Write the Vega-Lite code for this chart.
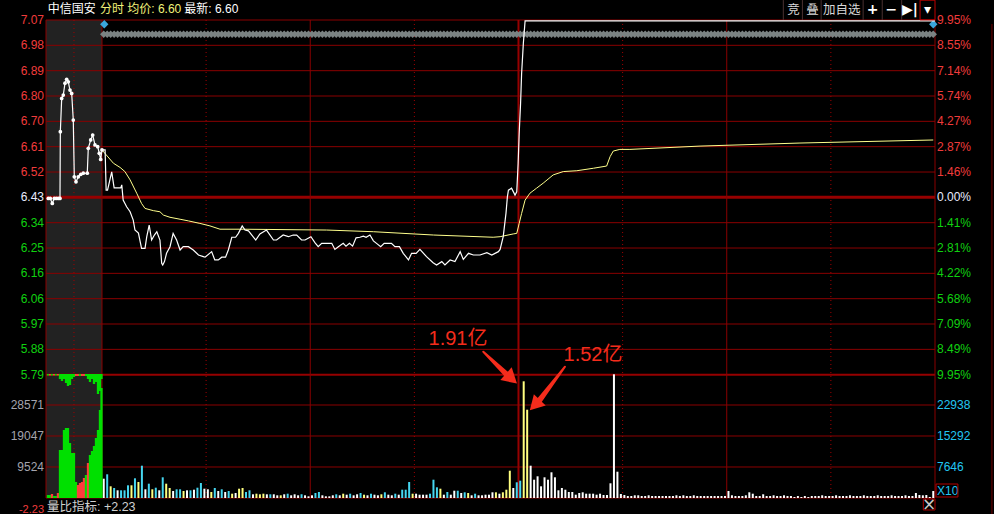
{
"$schema":"https://vega.github.io/schema/vega-lite/v6.json",
"width":889,"height":478,
"autosize":{"type":"none"},
"padding":{"left":46,"top":20,"right":59,"bottom":16},
"background":"#000000",
"config":{"view":{"stroke":null},"text":{"font":"Liberation Sans"},"scale":{"continuousPadding":0}},
"datasets":{
"pr":[{"t":0,"p":6.601},{"t":0.9,"p":6.601},{"t":1.2,"p":6.456},{"t":1.6,"p":6.456},{"t":2.8,"p":6.522},{"t":3.5,"p":6.464},{"t":5.4,"p":6.464},{"t":5.7,"p":6.475},{"t":6.1,"p":6.42},{"t":7.1,"p":6.396},{"t":8.1,"p":6.378},{"t":9.0,"p":6.348},{"t":9.5,"p":6.312},{"t":10.5,"p":6.301},{"t":11.4,"p":6.246},{"t":12.4,"p":6.246},{"t":12.9,"p":6.288},{"t":13.6,"p":6.33},{"t":14.3,"p":6.276},{"t":15.1,"p":6.294},{"t":15.8,"p":6.306},{"t":16.7,"p":6.276},{"t":17.2,"p":6.192},{"t":17.5,"p":6.186},{"t":18.0,"p":6.198},{"t":18.6,"p":6.228},{"t":19.6,"p":6.252},{"t":20.5,"p":6.3},{"t":21.5,"p":6.276},{"t":22.5,"p":6.24},{"t":23.4,"p":6.252},{"t":24.9,"p":6.252},{"t":26.3,"p":6.24},{"t":27.8,"p":6.222},{"t":29.2,"p":6.216},{"t":29.7,"p":6.214},{"t":31.6,"p":6.234},{"t":32.5,"p":6.204},{"t":33.5,"p":6.204},{"t":34.5,"p":6.214},{"t":35.6,"p":6.214},{"t":36.4,"p":6.24},{"t":37.4,"p":6.286},{"t":38.5,"p":6.286},{"t":39.3,"p":6.3},{"t":40.4,"p":6.327},{"t":41.2,"p":6.312},{"t":42.2,"p":6.309},{"t":44.3,"p":6.276},{"t":45.5,"p":6.298},{"t":47.4,"p":6.312},{"t":49.4,"p":6.276},{"t":50.3,"p":6.276},{"t":52.2,"p":6.294},{"t":53.7,"p":6.288},{"t":55.1,"p":6.294},{"t":56.1,"p":6.294},{"t":57.5,"p":6.276},{"t":58.5,"p":6.276},{"t":60.2,"p":6.288},{"t":61.4,"p":6.266},{"t":62.3,"p":6.252},{"t":63.3,"p":6.264},{"t":66.2,"p":6.264},{"t":67.1,"p":6.242},{"t":68.1,"p":6.252},{"t":69.5,"p":6.264},{"t":70.3,"p":6.254},{"t":71.3,"p":6.264},{"t":72.2,"p":6.254},{"t":73.2,"p":6.284},{"t":74.3,"p":6.286},{"t":75.3,"p":6.29},{"t":76.1,"p":6.286},{"t":77.2,"p":6.294},{"t":78.2,"p":6.273},{"t":79.1,"p":6.264},{"t":80.3,"p":6.252},{"t":81.3,"p":6.264},{"t":83.4,"p":6.264},{"t":84.4,"p":6.252},{"t":85.7,"p":6.252},{"t":86.8,"p":6.228},{"t":88.3,"p":6.204},{"t":89.2,"p":6.228},{"t":90.5,"p":6.228},{"t":91.6,"p":6.242},{"t":93.5,"p":6.216},{"t":95.4,"p":6.194},{"t":96.4,"p":6.186},{"t":97.9,"p":6.198},{"t":98.8,"p":6.186},{"t":100.3,"p":6.204},{"t":101.7,"p":6.198},{"t":103.2,"p":6.234},{"t":104.1,"p":6.206},{"t":105.6,"p":6.228},{"t":107.0,"p":6.222},{"t":108.9,"p":6.222},{"t":110.9,"p":6.23},{"t":112.3,"p":6.222},{"t":114.2,"p":6.234},{"t":114.7,"p":6.242},{"t":115.6,"p":6.288},{"t":116.4,"p":6.373},{"t":116.8,"p":6.432},{"t":117.1,"p":6.456},{"t":118.0,"p":6.463},{"t":119.0,"p":6.438},{"t":119.5,"p":6.45},{"t":119.9,"p":6.553},{"t":120.2,"p":6.661},{"t":120.6,"p":6.769},{"t":120.9,"p":6.878},{"t":121.4,"p":6.986},{"t":121.9,"p":7.067},{"t":240,"p":7.067}],
"av":[{"t":0,"p":6.601},{"t":3.3,"p":6.553},{"t":5.2,"p":6.538},{"t":6.6,"p":6.523},{"t":8.1,"p":6.493},{"t":10.0,"p":6.445},{"t":11.4,"p":6.408},{"t":12.4,"p":6.39},{"t":14.8,"p":6.382},{"t":16.7,"p":6.378},{"t":17.7,"p":6.366},{"t":19.6,"p":6.358},{"t":22.5,"p":6.351},{"t":24.9,"p":6.345},{"t":28.2,"p":6.336},{"t":31.1,"p":6.327},{"t":34.0,"p":6.315},{"t":40.7,"p":6.315},{"t":64.7,"p":6.312},{"t":78.2,"p":6.306},{"t":95.5,"p":6.294},{"t":112.7,"p":6.286},{"t":114.7,"p":6.288},{"t":118.5,"p":6.298},{"t":119.5,"p":6.3},{"t":120.2,"p":6.336},{"t":120.9,"p":6.372},{"t":121.9,"p":6.42},{"t":123.3,"p":6.445},{"t":125.2,"p":6.463},{"t":127.1,"p":6.481},{"t":130.0,"p":6.511},{"t":132.9,"p":6.523},{"t":136.8,"p":6.526},{"t":141.6,"p":6.535},{"t":145.4,"p":6.543},{"t":146.4,"p":6.577},{"t":147.3,"p":6.597},{"t":149.2,"p":6.603},{"t":152.1,"p":6.603},{"t":172.3,"p":6.615},{"t":201.1,"p":6.626},{"t":239.5,"p":6.637}],
"pre":[{"t":-15.47,"p":6.426},{"t":-14.9,"p":6.426},{"t":-14.32,"p":6.408},{"t":-13.75,"p":6.426},{"t":-13.17,"p":6.426},{"t":-12.6,"p":6.426},{"t":-12.1,"p":6.426},{"t":-12.0,"p":6.667},{"t":-11.61,"p":6.787},{"t":-11.15,"p":6.799},{"t":-10.66,"p":6.842},{"t":-10.17,"p":6.856},{"t":-9.71,"p":6.847},{"t":-9.22,"p":6.817},{"t":-8.73,"p":6.805},{"t":-8.27,"p":6.709},{"t":-7.98,"p":6.504},{"t":-7.49,"p":6.486},{"t":-6.83,"p":6.504},{"t":-6.1,"p":6.513},{"t":-5.39,"p":6.517},{"t":-4.24,"p":6.517},{"t":-3.95,"p":6.607},{"t":-3.26,"p":6.637},{"t":-2.68,"p":6.655},{"t":-2.02,"p":6.619},{"t":-1.24,"p":6.613},{"t":-0.78,"p":6.589},{"t":-0.37,"p":6.567},{"t":0,"p":6.601}],
"pv":[{"t":-15.56,"v":922,"c":"g"},{"t":-14.98,"v":922,"c":"g"},{"t":-14.41,"v":1229,"c":"r"},{"t":-13.83,"v":614,"c":"g"},{"t":-13.25,"v":614,"c":"g"},{"t":-12.68,"v":1536,"c":"r"},{"t":-12.1,"v":14746,"c":"g"},{"t":-11.52,"v":14746,"c":"g"},{"t":-10.95,"v":20890,"c":"g"},{"t":-10.37,"v":21504,"c":"g"},{"t":-9.8,"v":21504,"c":"g"},{"t":-9.22,"v":16896,"c":"g"},{"t":-8.64,"v":13824,"c":"g"},{"t":-8.07,"v":13824,"c":"g"},{"t":-7.49,"v":4915,"c":"g"},{"t":-6.91,"v":3994,"c":"r"},{"t":-6.34,"v":4608,"c":"r"},{"t":-5.76,"v":4915,"c":"r"},{"t":-5.19,"v":6144,"c":"r"},{"t":-4.61,"v":7066,"c":"g"},{"t":-4.03,"v":10752,"c":"r"},{"t":-3.46,"v":13210,"c":"g"},{"t":-2.88,"v":14438,"c":"g"},{"t":-2.3,"v":15974,"c":"g"},{"t":-1.73,"v":18432,"c":"g"},{"t":-1.15,"v":20890,"c":"g"},{"t":-0.58,"v":27034,"c":"g"},{"t":-0.14,"v":33792,"c":"g"}],
"ph":[{"t":-15.56,"lo":37634,"hi":38095,"c":"g"},{"t":-14.98,"lo":37634,"hi":38095,"c":"r"},{"t":-14.41,"lo":37634,"hi":38095,"c":"g"},{"t":-13.83,"lo":37634,"hi":38095,"c":"r"},{"t":-13.25,"lo":37634,"hi":38095,"c":"g"},{"t":-12.68,"lo":37634,"hi":38095,"c":"r"},{"t":-12.1,"lo":36559,"hi":38095,"c":"g"},{"t":-11.52,"lo":35945,"hi":38095,"c":"g"},{"t":-10.95,"lo":36559,"hi":38095,"c":"g"},{"t":-10.37,"lo":35330,"hi":38095,"c":"g"},{"t":-9.8,"lo":34409,"hi":38095,"c":"g"},{"t":-9.22,"lo":34716,"hi":38095,"c":"g"},{"t":-8.64,"lo":36559,"hi":38095,"c":"g"},{"t":-8.07,"lo":37173,"hi":38095,"c":"g"},{"t":-7.49,"lo":37481,"hi":38095,"c":"r"},{"t":-6.91,"lo":37481,"hi":38095,"c":"r"},{"t":-6.34,"lo":37481,"hi":38095,"c":"g"},{"t":-5.76,"lo":37481,"hi":38095,"c":"r"},{"t":-5.19,"lo":37481,"hi":38095,"c":"r"},{"t":-4.61,"lo":37481,"hi":38095,"c":"g"},{"t":-4.03,"lo":36559,"hi":38095,"c":"g"},{"t":-3.46,"lo":35637,"hi":38095,"c":"g"},{"t":-2.88,"lo":36559,"hi":38095,"c":"g"},{"t":-2.3,"lo":35023,"hi":38095,"c":"g"},{"t":-1.73,"lo":35637,"hi":38095,"c":"g"},{"t":-1.15,"lo":31951,"hi":38095,"c":"g"},{"t":-0.58,"lo":32873,"hi":38095,"c":"g"},{"t":-0.14,"lo":36559,"hi":38095,"c":"g"}],
"vol":[{"t":0.5,"v":5929,"c":"w"},{"t":1.5,"v":7281,"c":"c"},{"t":2.5,"v":3594,"c":"y"},{"t":3.5,"v":3072,"c":"c"},{"t":4.5,"v":2365,"c":"w"},{"t":5.5,"v":2365,"c":"c"},{"t":6.5,"v":2365,"c":"c"},{"t":7.5,"v":3901,"c":"c"},{"t":8.5,"v":3901,"c":"y"},{"t":9.5,"v":6052,"c":"c"},{"t":10.5,"v":4915,"c":"y"},{"t":11.5,"v":9923,"c":"c"},{"t":12.5,"v":2673,"c":"w"},{"t":13.5,"v":4393,"c":"c"},{"t":14.5,"v":2673,"c":"y"},{"t":15.5,"v":3164,"c":"c"},{"t":16.5,"v":2365,"c":"w"},{"t":17.5,"v":6359,"c":"c"},{"t":18.5,"v":4393,"c":"y"},{"t":19.5,"v":3072,"c":"y"},{"t":20.5,"v":2150,"c":"w"},{"t":21.5,"v":2673,"c":"c"},{"t":22.5,"v":2673,"c":"c"},{"t":23.5,"v":2150,"c":"y"},{"t":24.5,"v":2365,"c":"w"},{"t":25.5,"v":2365,"c":"c"},{"t":26.5,"v":2550,"c":"w"},{"t":27.5,"v":3164,"c":"c"},{"t":28.5,"v":4608,"c":"c"},{"t":29.5,"v":2857,"c":"w"},{"t":30.5,"v":2673,"c":"w"},{"t":31.5,"v":1843,"c":"y"},{"t":32.5,"v":3072,"c":"c"},{"t":33.5,"v":2150,"c":"w"},{"t":34.5,"v":2673,"c":"c"},{"t":35.5,"v":1843,"c":"w"},{"t":36.5,"v":2150,"c":"c"},{"t":37.5,"v":1321,"c":"y"},{"t":38.5,"v":1536,"c":"w"},{"t":39.5,"v":2857,"c":"y"},{"t":40.5,"v":3072,"c":"y"},{"t":41.5,"v":1843,"c":"c"},{"t":42.5,"v":2365,"c":"c"},{"t":43.5,"v":1137,"c":"w"},{"t":44.5,"v":1321,"c":"y"},{"t":45.5,"v":1137,"c":"y"},{"t":46.5,"v":1321,"c":"y"},{"t":47.5,"v":1137,"c":"w"},{"t":48.5,"v":1137,"c":"c"},{"t":49.5,"v":1137,"c":"w"},{"t":50.5,"v":829,"c":"w"},{"t":51.5,"v":829,"c":"y"},{"t":52.5,"v":1137,"c":"w"},{"t":53.5,"v":1321,"c":"c"},{"t":54.5,"v":829,"c":"w"},{"t":55.5,"v":1137,"c":"w"},{"t":56.5,"v":829,"c":"w"},{"t":57.5,"v":1137,"c":"c"},{"t":58.5,"v":829,"c":"w"},{"t":59.5,"v":522,"c":"w"},{"t":60.5,"v":829,"c":"w"},{"t":61.5,"v":1536,"c":"c"},{"t":62.5,"v":1843,"c":"c"},{"t":63.5,"v":829,"c":"w"},{"t":64.5,"v":522,"c":"w"},{"t":65.5,"v":522,"c":"w"},{"t":66.5,"v":829,"c":"w"},{"t":67.5,"v":1137,"c":"c"},{"t":68.5,"v":829,"c":"w"},{"t":69.5,"v":1321,"c":"y"},{"t":70.5,"v":1014,"c":"w"},{"t":71.5,"v":1321,"c":"c"},{"t":72.5,"v":829,"c":"w"},{"t":73.5,"v":1137,"c":"w"},{"t":74.5,"v":1536,"c":"c"},{"t":75.5,"v":1014,"c":"y"},{"t":76.5,"v":829,"c":"w"},{"t":77.5,"v":1321,"c":"c"},{"t":78.5,"v":1014,"c":"w"},{"t":79.5,"v":829,"c":"w"},{"t":80.5,"v":1137,"c":"y"},{"t":81.5,"v":1751,"c":"c"},{"t":82.5,"v":1014,"c":"w"},{"t":83.5,"v":829,"c":"w"},{"t":84.5,"v":1321,"c":"c"},{"t":85.5,"v":1014,"c":"w"},{"t":86.5,"v":2550,"c":"c"},{"t":87.5,"v":2550,"c":"c"},{"t":88.5,"v":4915,"c":"c"},{"t":89.5,"v":1321,"c":"y"},{"t":90.5,"v":1321,"c":"w"},{"t":91.5,"v":1014,"c":"w"},{"t":92.5,"v":1014,"c":"w"},{"t":93.5,"v":1014,"c":"w"},{"t":94.5,"v":1321,"c":"c"},{"t":95.5,"v":5622,"c":"c"},{"t":96.5,"v":3287,"c":"c"},{"t":97.5,"v":2857,"c":"y"},{"t":98.5,"v":1014,"c":"w"},{"t":99.5,"v":1843,"c":"c"},{"t":100.5,"v":1014,"c":"w"},{"t":101.5,"v":2243,"c":"w"},{"t":102.5,"v":2243,"c":"c"},{"t":103.5,"v":1536,"c":"w"},{"t":104.5,"v":1751,"c":"c"},{"t":105.5,"v":1536,"c":"y"},{"t":106.5,"v":829,"c":"w"},{"t":107.5,"v":1321,"c":"c"},{"t":108.5,"v":829,"c":"w"},{"t":109.5,"v":829,"c":"w"},{"t":110.5,"v":1014,"c":"w"},{"t":111.5,"v":1014,"c":"w"},{"t":112.5,"v":1751,"c":"w"},{"t":113.5,"v":1751,"c":"y"},{"t":114.5,"v":1321,"c":"w"},{"t":115.5,"v":1751,"c":"y"},{"t":116.5,"v":2550,"c":"y"},{"t":117.5,"v":8387,"c":"y"},{"t":118.5,"v":3072,"c":"w"},{"t":119.5,"v":4823,"c":"c"},{"t":120.5,"v":5315,"c":"c"},{"t":121.5,"v":35850,"c":"y"},{"t":122.5,"v":27126,"c":"y"},{"t":123.5,"v":9923,"c":"w"},{"t":124.5,"v":5622,"c":"w"},{"t":125.5,"v":6666,"c":"w"},{"t":126.5,"v":3594,"c":"w"},{"t":127.5,"v":6359,"c":"w"},{"t":128.5,"v":5622,"c":"w"},{"t":129.5,"v":7895,"c":"w"},{"t":130.5,"v":6359,"c":"w"},{"t":131.5,"v":2365,"c":"w"},{"t":132.5,"v":3072,"c":"w"},{"t":133.5,"v":2550,"c":"w"},{"t":134.5,"v":1843,"c":"w"},{"t":135.5,"v":1843,"c":"w"},{"t":136.5,"v":1014,"c":"w"},{"t":137.5,"v":1536,"c":"w"},{"t":138.5,"v":1751,"c":"w"},{"t":139.5,"v":1321,"c":"w"},{"t":140.5,"v":1321,"c":"w"},{"t":141.5,"v":1321,"c":"w"},{"t":142.5,"v":1014,"c":"w"},{"t":143.5,"v":1321,"c":"w"},{"t":144.5,"v":922,"c":"w"},{"t":145.5,"v":922,"c":"w"},{"t":146.5,"v":4516,"c":"w"},{"t":147.5,"v":38000,"c":"w"},{"t":148.5,"v":8079,"c":"w"},{"t":149.5,"v":1229,"c":"w"},{"t":150.5,"v":922,"c":"w"},{"t":151.5,"v":614,"c":"w"},{"t":152.5,"v":614,"c":"w"},{"t":153.5,"v":829,"c":"w"},{"t":154.5,"v":829,"c":"w"},{"t":155.5,"v":614,"c":"w"},{"t":156.5,"v":614,"c":"w"},{"t":157.5,"v":829,"c":"w"},{"t":158.5,"v":614,"c":"w"},{"t":159.5,"v":614,"c":"w"},{"t":160.5,"v":614,"c":"w"},{"t":161.5,"v":614,"c":"w"},{"t":162.5,"v":614,"c":"w"},{"t":163.5,"v":614,"c":"w"},{"t":164.5,"v":614,"c":"w"},{"t":165.5,"v":829,"c":"w"},{"t":166.5,"v":614,"c":"w"},{"t":167.5,"v":829,"c":"w"},{"t":168.5,"v":614,"c":"w"},{"t":169.5,"v":614,"c":"w"},{"t":170.5,"v":829,"c":"w"},{"t":171.5,"v":614,"c":"w"},{"t":172.5,"v":614,"c":"w"},{"t":173.5,"v":614,"c":"w"},{"t":174.5,"v":614,"c":"w"},{"t":175.5,"v":614,"c":"w"},{"t":176.5,"v":614,"c":"w"},{"t":177.5,"v":614,"c":"w"},{"t":178.5,"v":614,"c":"w"},{"t":179.5,"v":614,"c":"w"},{"t":180.5,"v":2150,"c":"w"},{"t":181.5,"v":829,"c":"w"},{"t":182.5,"v":614,"c":"w"},{"t":183.5,"v":614,"c":"w"},{"t":184.5,"v":614,"c":"w"},{"t":185.5,"v":829,"c":"w"},{"t":186.5,"v":1751,"c":"w"},{"t":187.5,"v":1321,"c":"w"},{"t":188.5,"v":614,"c":"w"},{"t":189.5,"v":614,"c":"w"},{"t":190.5,"v":1137,"c":"w"},{"t":191.5,"v":614,"c":"w"},{"t":192.5,"v":614,"c":"w"},{"t":193.5,"v":829,"c":"w"},{"t":194.5,"v":614,"c":"w"},{"t":195.5,"v":614,"c":"w"},{"t":196.5,"v":829,"c":"w"},{"t":197.5,"v":614,"c":"w"},{"t":198.5,"v":614,"c":"w"},{"t":199.5,"v":307,"c":"w"},{"t":200.5,"v":614,"c":"w"},{"t":201.5,"v":307,"c":"w"},{"t":202.5,"v":614,"c":"w"},{"t":203.5,"v":307,"c":"w"},{"t":204.5,"v":614,"c":"w"},{"t":205.5,"v":614,"c":"w"},{"t":206.5,"v":614,"c":"w"},{"t":207.5,"v":829,"c":"w"},{"t":208.5,"v":614,"c":"w"},{"t":209.5,"v":614,"c":"w"},{"t":210.5,"v":614,"c":"w"},{"t":211.5,"v":829,"c":"w"},{"t":212.5,"v":614,"c":"w"},{"t":213.5,"v":614,"c":"w"},{"t":214.5,"v":614,"c":"w"},{"t":215.5,"v":829,"c":"w"},{"t":216.5,"v":614,"c":"w"},{"t":217.5,"v":614,"c":"w"},{"t":218.5,"v":614,"c":"w"},{"t":219.5,"v":829,"c":"w"},{"t":220.5,"v":614,"c":"w"},{"t":221.5,"v":614,"c":"w"},{"t":222.5,"v":614,"c":"w"},{"t":223.5,"v":829,"c":"w"},{"t":224.5,"v":614,"c":"w"},{"t":225.5,"v":614,"c":"w"},{"t":226.5,"v":614,"c":"w"},{"t":227.5,"v":829,"c":"w"},{"t":228.5,"v":614,"c":"w"},{"t":229.5,"v":614,"c":"w"},{"t":230.5,"v":614,"c":"w"},{"t":231.5,"v":829,"c":"w"},{"t":232.5,"v":614,"c":"w"},{"t":233.5,"v":614,"c":"w"},{"t":234.5,"v":1536,"c":"w"},{"t":235.5,"v":922,"c":"w"},{"t":236.5,"v":829,"c":"w"},{"t":237.5,"v":922,"c":"w"},{"t":238.5,"v":307,"c":"w"},{"t":239.5,"v":2150,"c":"w"}],
"plab":[{"p":7.07,"l":"7.07","r":"9.95%","k":"u"},{"p":6.9786,"l":"6.98","r":"8.55%","k":"u"},{"p":6.8871,"l":"6.89","r":"7.14%","k":"u"},{"p":6.7957,"l":"6.80","r":"5.74%","k":"u"},{"p":6.7043,"l":"6.70","r":"4.27%","k":"u"},{"p":6.6129,"l":"6.61","r":"2.87%","k":"u"},{"p":6.5214,"l":"6.52","r":"1.46%","k":"u"},{"p":6.43,"l":"6.43","r":"0.00%","k":"f"},{"p":6.3386,"l":"6.34","r":"1.41%","k":"d"},{"p":6.2471,"l":"6.25","r":"2.81%","k":"d"},{"p":6.1557,"l":"6.16","r":"4.22%","k":"d"},{"p":6.0643,"l":"6.06","r":"5.68%","k":"d"},{"p":5.9729,"l":"5.97","r":"7.09%","k":"d"},{"p":5.8814,"l":"5.88","r":"8.49%","k":"d"},{"p":5.79,"l":"5.79","r":"9.95%","k":"d"}],
"vlab":[{"v":28571,"l":"28571","r":"22938"},{"v":19048,"l":"19047","r":"15292"},{"v":9524,"l":"9524","r":"7646"}],
"hg":[{"p":7.07},{"p":6.9786},{"p":6.8871},{"p":6.7957},{"p":6.7043},{"p":6.6129},{"p":6.5214},{"p":6.3386},{"p":6.2471},{"p":6.1557},{"p":6.0643},{"p":5.9729},{"p":5.8814}],
"vg":[{"v":0},{"v":9524},{"v":19048},{"v":28571}],
"vsolid":[{"t":-16.13},{"t":0},{"t":60},{"t":180},{"t":240}],
"vdot":[{"t":-8.07},{"t":30},{"t":90},{"t":150},{"t":210}],
"hdr":[{"t":-15.64,"s":"中信国安","k":"w"},{"t":-0.6,"s":"分时 均价: 6.60","k":"y"},{"t":23.71,"s":"最新: 6.60","k":"w"}],
"btxt":[{"t":199.2,"s":"竞"},{"t":204.7,"s":"叠"},{"t":213.1,"s":"加自选"}],
"bicon":[{"t":222.0,"s":"+"},{"t":227.4,"s":"−"},{"t":232.8,"s":"▶|"},{"t":237.85,"s":"▾"}],
"bdiv":[{"t":196.3,"p0":7.142,"p1":7.07},{"t":201.8,"p0":7.142,"p1":7.07},{"t":207.2,"p0":7.142,"p1":7.07},{"t":219.3,"p0":7.142,"p1":7.07},{"t":224.8,"p0":7.142,"p1":7.07},{"t":230.4,"p0":7.142,"p1":7.07}],
"ann":[{"t":102.57,"v":48845,"s":"1.91亿"},{"t":141.47,"v":43930,"s":"1.52亿"}],
"shaft":[{"t":109.86,"v":44943,"s":0,"a":"1"},{"t":116.46,"v":38124,"s":1,"a":"1"},{"t":133.4,"v":40335,"s":0,"a":"2"},{"t":126.11,"v":30106,"s":1,"a":"2"}]
},
"layer":[
{"data":{"values":[{"t0":-16.13,"t1":0}]},"mark":{"type":"rect","fill":"#222222"},"encoding":{"x":{"field":"t0","type":"quantitative","scale":{"domain":[-16.13,240],"nice":false,"zero":false,"padding":0},"axis":null},"x2":{"field":"t1"}}},
{"data":{"name":"hg"},"mark":{"type":"rule","color":"#8a0000","strokeWidth":1},"encoding":{"y":{"field":"p","type":"quantitative","scale":{"domain":[5.345,7.07],"nice":false,"zero":false},"axis":null}}},
{"data":{"values":[{"p":6.43}]},"mark":{"type":"rule","color":"#960000","strokeWidth":3},"encoding":{"y":{"field":"p","type":"quantitative","scale":{"domain":[5.345,7.07],"nice":false,"zero":false},"axis":null}}},
{"data":{"values":[{"p":5.79}]},"mark":{"type":"rule","color":"#960000","strokeWidth":2},"encoding":{"y":{"field":"p","type":"quantitative","scale":{"domain":[5.345,7.07],"nice":false,"zero":false},"axis":null}}},
{"data":{"name":"vg"},"mark":{"type":"rule","color":"#8a0000","strokeWidth":1},"encoding":{"y":{"field":"v","type":"quantitative","scale":{"domain":[0,146850],"nice":false,"zero":false},"axis":null}}},
{"data":{"name":"vsolid"},"mark":{"type":"rule","color":"#8a0000","strokeWidth":1},"encoding":{"x":{"field":"t","type":"quantitative","scale":{"domain":[-16.13,240],"nice":false,"zero":false,"padding":0},"axis":null}}},
{"data":{"values":[{"t":120}]},"mark":{"type":"rule","color":"#960000","strokeWidth":2},"encoding":{"x":{"field":"t","type":"quantitative","scale":{"domain":[-16.13,240],"nice":false,"zero":false,"padding":0},"axis":null}}},
{"data":{"name":"vdot"},"mark":{"type":"rule","color":"#a00000","strokeWidth":1,"strokeDash":[1,3]},"encoding":{"x":{"field":"t","type":"quantitative","scale":{"domain":[-16.13,240],"nice":false,"zero":false,"padding":0},"axis":null}}},
{"data":{"values":[{"t":256.4,"p0":7.0556,"p1":5.287}]},"mark":{"type":"rule","color":"#700000","strokeWidth":1},"encoding":{"x":{"field":"t","type":"quantitative","scale":{"domain":[-16.13,240],"nice":false,"zero":false,"padding":0},"axis":null},"y":{"field":"p0","type":"quantitative","scale":{"domain":[5.345,7.07],"nice":false,"zero":false},"axis":null},"y2":{"field":"p1"}}},
{"data":{"name":"vol"},"mark":{"type":"point","shape":"diamond","filled":true,"size":55,"color":"#7b8383","opacity":1},"encoding":{"x":{"field":"t","type":"quantitative","scale":{"domain":[-16.13,240],"nice":false,"zero":false,"padding":0},"axis":null},"y":{"datum":7.0184,"type":"quantitative","scale":{"domain":[5.345,7.07],"nice":false,"zero":false},"axis":null}}},
{"data":{"values":[{"t":0.66},{"t":239.5}]},"mark":{"type":"point","shape":"diamond","filled":true,"size":70,"color":"#3aa6dc","opacity":1},"encoding":{"x":{"field":"t","type":"quantitative","scale":{"domain":[-16.13,240],"nice":false,"zero":false,"padding":0},"axis":null},"y":{"datum":7.0545,"type":"quantitative","scale":{"domain":[5.345,7.07],"nice":false,"zero":false},"axis":null}}},
{"data":{"name":"vol"},"mark":{"type":"bar","width":2},"encoding":{"x":{"field":"t","type":"quantitative","scale":{"domain":[-16.13,240],"nice":false,"zero":false,"padding":0},"axis":null},"y":{"field":"v","type":"quantitative","stack":null,"scale":{"domain":[0,146850],"nice":false,"zero":false},"axis":null},"color":{"field":"c","type":"nominal","scale":{"domain":["w","c","y"],"range":["#ffffff","#46d6f0","#ffff80"]},"legend":null}}},
{"data":{"name":"pv"},"mark":{"type":"bar","width":2.3},"encoding":{"x":{"field":"t","type":"quantitative","scale":{"domain":[-16.13,240],"nice":false,"zero":false,"padding":0},"axis":null},"y":{"field":"v","type":"quantitative","stack":null,"scale":{"domain":[0,146850],"nice":false,"zero":false},"axis":null},"color":{"field":"c","type":"nominal","scale":{"domain":["g","r"],"range":["#00e000","#ff3c3c"]},"legend":null}}},
{"data":{"name":"ph"},"mark":{"type":"bar","width":2.3},"encoding":{"x":{"field":"t","type":"quantitative","scale":{"domain":[-16.13,240],"nice":false,"zero":false,"padding":0},"axis":null},"y":{"field":"lo","type":"quantitative","scale":{"domain":[0,146850],"nice":false,"zero":false},"axis":null},"y2":{"field":"hi"},"color":{"field":"c","type":"nominal","scale":{"domain":["g","r"],"range":["#00e000","#ff3c3c"]},"legend":null}}},
{"data":{"name":"av"},"mark":{"type":"line","color":"#ffff8c","strokeWidth":1},"encoding":{"x":{"field":"t","type":"quantitative","scale":{"domain":[-16.13,240],"nice":false,"zero":false,"padding":0},"axis":null},"y":{"field":"p","type":"quantitative","scale":{"domain":[5.345,7.07],"nice":false,"zero":false},"axis":null}}},
{"data":{"name":"pr"},"mark":{"type":"line","color":"#ffffff","strokeWidth":1.2},"encoding":{"x":{"field":"t","type":"quantitative","scale":{"domain":[-16.13,240],"nice":false,"zero":false,"padding":0},"axis":null},"y":{"field":"p","type":"quantitative","scale":{"domain":[5.345,7.07],"nice":false,"zero":false},"axis":null}}},
{"data":{"name":"pre"},"mark":{"type":"line","color":"#ffffff","strokeWidth":1.2},"encoding":{"x":{"field":"t","type":"quantitative","scale":{"domain":[-16.13,240],"nice":false,"zero":false,"padding":0},"axis":null},"y":{"field":"p","type":"quantitative","scale":{"domain":[5.345,7.07],"nice":false,"zero":false},"axis":null}}},
{"data":{"name":"pre"},"mark":{"type":"point","filled":true,"size":14,"color":"#ffffff","opacity":1},"encoding":{"x":{"field":"t","type":"quantitative","scale":{"domain":[-16.13,240],"nice":false,"zero":false,"padding":0},"axis":null},"y":{"field":"p","type":"quantitative","scale":{"domain":[5.345,7.07],"nice":false,"zero":false},"axis":null}}},
{"data":{"name":"plab"},"mark":{"type":"text","align":"right","baseline":"middle","dx":-2,"fontSize":12},"encoding":{"x":{"datum":-16.13,"type":"quantitative","scale":{"domain":[-16.13,240],"nice":false,"zero":false,"padding":0},"axis":null},"y":{"field":"p","type":"quantitative","scale":{"domain":[5.345,7.07],"nice":false,"zero":false},"axis":null},"text":{"field":"l","type":"nominal"},"color":{"field":"k","type":"nominal","scale":{"domain":["u","f","d"],"range":["#f03c3c","#e8ecff","#10d010"]},"legend":null}}},
{"data":{"name":"plab"},"mark":{"type":"text","align":"left","baseline":"middle","dx":2,"fontSize":12},"encoding":{"x":{"datum":240,"type":"quantitative","scale":{"domain":[-16.13,240],"nice":false,"zero":false,"padding":0},"axis":null},"y":{"field":"p","type":"quantitative","scale":{"domain":[5.345,7.07],"nice":false,"zero":false},"axis":null},"text":{"field":"r","type":"nominal"},"color":{"field":"k","type":"nominal","scale":{"domain":["u","f","d"],"range":["#f03c3c","#e8ecff","#10d010"]},"legend":null}}},
{"data":{"name":"vlab"},"mark":{"type":"text","align":"right","baseline":"middle","dx":-2,"fontSize":12,"color":"#a4a4ae"},"encoding":{"x":{"datum":-16.13,"type":"quantitative","scale":{"domain":[-16.13,240],"nice":false,"zero":false,"padding":0},"axis":null},"y":{"field":"v","type":"quantitative","scale":{"domain":[0,146850],"nice":false,"zero":false},"axis":null},"text":{"field":"l","type":"nominal"}}},
{"data":{"name":"vlab"},"mark":{"type":"text","align":"left","baseline":"middle","dx":2,"fontSize":12,"color":"#22c6f2"},"encoding":{"x":{"datum":240,"type":"quantitative","scale":{"domain":[-16.13,240],"nice":false,"zero":false,"padding":0},"axis":null},"y":{"field":"v","type":"quantitative","scale":{"domain":[0,146850],"nice":false,"zero":false},"axis":null},"text":{"field":"r","type":"nominal"}}},
{"data":{"values":[{"v":2304,"s":"X10"}]},"mark":{"type":"text","align":"left","baseline":"middle","dx":2,"fontSize":12,"color":"#22c6f2"},"encoding":{"x":{"datum":240,"type":"quantitative","scale":{"domain":[-16.13,240],"nice":false,"zero":false,"padding":0},"axis":null},"y":{"field":"v","type":"quantitative","scale":{"domain":[0,146850],"nice":false,"zero":false},"axis":null},"text":{"field":"s","type":"nominal"}}},
{"data":{"values":[{"t0":240.3,"t1":246.6,"v0":4301,"v1":307},{"t0":236.63,"t1":240,"v0":-307,"v1":-3686}]},"mark":{"type":"rect","fillOpacity":0,"stroke":"#b00000","strokeWidth":1},"encoding":{"x":{"field":"t0","type":"quantitative","scale":{"domain":[-16.13,240],"nice":false,"zero":false,"padding":0},"axis":null},"x2":{"field":"t1"},"y":{"field":"v0","type":"quantitative","scale":{"domain":[0,146850],"nice":false,"zero":false},"axis":null},"y2":{"field":"v1"}}},
{"data":{"values":[{"t":238.3,"v":-2002,"s":"×"}]},"mark":{"type":"text","align":"center","baseline":"middle","fontSize":17,"color":"#c8c8c8","font":"DejaVu Sans"},"encoding":{"x":{"field":"t","type":"quantitative","scale":{"domain":[-16.13,240],"nice":false,"zero":false,"padding":0},"axis":null},"y":{"field":"v","type":"quantitative","scale":{"domain":[0,146850],"nice":false,"zero":false},"axis":null},"text":{"field":"s","type":"nominal"}}},
{"data":{"values":[{"t":-15.85,"v":-2765,"s":"量比指标: +2.23"}]},"mark":{"type":"text","align":"left","baseline":"middle","fontSize":12.5,"color":"#d0d0d0","font":"Liberation Sans, Noto Sans CJK SC"},"encoding":{"x":{"field":"t","type":"quantitative","scale":{"domain":[-16.13,240],"nice":false,"zero":false,"padding":0},"axis":null},"y":{"field":"v","type":"quantitative","scale":{"domain":[0,146850],"nice":false,"zero":false},"axis":null},"text":{"field":"s","type":"nominal"}}},
{"data":{"values":[{"v":-3533,"s":"-2.23"}]},"mark":{"type":"text","align":"right","baseline":"middle","dx":-2,"fontSize":11,"color":"#f03c3c"},"encoding":{"x":{"datum":-16.13,"type":"quantitative","scale":{"domain":[-16.13,240],"nice":false,"zero":false,"padding":0},"axis":null},"y":{"field":"v","type":"quantitative","scale":{"domain":[0,146850],"nice":false,"zero":false},"axis":null},"text":{"field":"s","type":"nominal"}}},
{"data":{"name":"hdr"},"mark":{"type":"text","align":"left","baseline":"middle","fontSize":12,"font":"Liberation Sans, Noto Sans CJK SC"},"encoding":{"x":{"field":"t","type":"quantitative","scale":{"domain":[-16.13,240],"nice":false,"zero":false,"padding":0},"axis":null},"y":{"datum":7.1097,"type":"quantitative","scale":{"domain":[5.345,7.07],"nice":false,"zero":false},"axis":null},"text":{"field":"s","type":"nominal"},"color":{"field":"k","type":"nominal","scale":{"domain":["w","y"],"range":["#ffffff","#f2f27a"]},"legend":null}}},
{"data":{"name":"bdiv"},"mark":{"type":"rule","color":"#4a3030","strokeWidth":1},"encoding":{"x":{"field":"t","type":"quantitative","scale":{"domain":[-16.13,240],"nice":false,"zero":false,"padding":0},"axis":null},"y":{"field":"p0","type":"quantitative","scale":{"domain":[5.345,7.07],"nice":false,"zero":false},"axis":null},"y2":{"field":"p1"}}},
{"data":{"values":[{"t0":235.7,"t1":240,"p0":7.1415,"p1":7.0705}]},"mark":{"type":"rect","fillOpacity":0,"stroke":"#c00000","strokeWidth":1},"encoding":{"x":{"field":"t0","type":"quantitative","scale":{"domain":[-16.13,240],"nice":false,"zero":false,"padding":0},"axis":null},"x2":{"field":"t1"},"y":{"field":"p0","type":"quantitative","scale":{"domain":[5.345,7.07],"nice":false,"zero":false},"axis":null},"y2":{"field":"p1"}}},
{"data":{"name":"btxt"},"mark":{"type":"text","align":"center","baseline":"middle","fontSize":12.5,"color":"#d8d8d8","font":"Noto Sans CJK SC"},"encoding":{"x":{"field":"t","type":"quantitative","scale":{"domain":[-16.13,240],"nice":false,"zero":false,"padding":0},"axis":null},"y":{"datum":7.1061,"type":"quantitative","scale":{"domain":[5.345,7.07],"nice":false,"zero":false},"axis":null},"text":{"field":"s","type":"nominal"}}},
{"data":{"name":"bicon"},"mark":{"type":"text","align":"center","baseline":"middle","fontSize":14,"fontWeight":"bold","color":"#ffffff","font":"DejaVu Sans"},"encoding":{"x":{"field":"t","type":"quantitative","scale":{"domain":[-16.13,240],"nice":false,"zero":false,"padding":0},"axis":null},"y":{"datum":7.1061,"type":"quantitative","scale":{"domain":[5.345,7.07],"nice":false,"zero":false},"axis":null},"text":{"field":"s","type":"nominal"}}},
{"data":{"name":"ann"},"mark":{"type":"text","align":"center","baseline":"middle","fontSize":20,"color":"#f42c1c","font":"Liberation Sans, Noto Sans CJK SC"},"encoding":{"x":{"field":"t","type":"quantitative","scale":{"domain":[-16.13,240],"nice":false,"zero":false,"padding":0},"axis":null},"y":{"field":"v","type":"quantitative","scale":{"domain":[0,146850],"nice":false,"zero":false},"axis":null},"text":{"field":"s","type":"nominal"}}},
{"data":{"name":"shaft"},"mark":{"type":"trail","color":"#f42c1c"},"encoding":{"x":{"field":"t","type":"quantitative","scale":{"domain":[-16.13,240],"nice":false,"zero":false,"padding":0},"axis":null},"y":{"field":"v","type":"quantitative","scale":{"domain":[0,146850],"nice":false,"zero":false},"axis":null},"detail":{"field":"a","type":"nominal"},"size":{"field":"s","type":"quantitative","scale":{"domain":[0,1],"range":[2,5.5]},"legend":null}}},
{"data":{"values":[{"t":117.98,"v":36680}]},"mark":{"type":"point","shape":"triangle-up","filled":true,"size":289,"angle":131.8,"color":"#f42c1c","opacity":1},"encoding":{"x":{"field":"t","type":"quantitative","scale":{"domain":[-16.13,240],"nice":false,"zero":false,"padding":0},"axis":null},"y":{"field":"v","type":"quantitative","scale":{"domain":[0,146850],"nice":false,"zero":false},"axis":null}}},
{"data":{"values":[{"t":124.7,"v":28570}]},"mark":{"type":"point","shape":"triangle-up","filled":true,"size":272,"angle":224.1,"color":"#f42c1c","opacity":1},"encoding":{"x":{"field":"t","type":"quantitative","scale":{"domain":[-16.13,240],"nice":false,"zero":false,"padding":0},"axis":null},"y":{"field":"v","type":"quantitative","scale":{"domain":[0,146850],"nice":false,"zero":false},"axis":null}}}
],
"resolve":{"scale":{"y":"independent","color":"independent","size":"independent"}}
}
